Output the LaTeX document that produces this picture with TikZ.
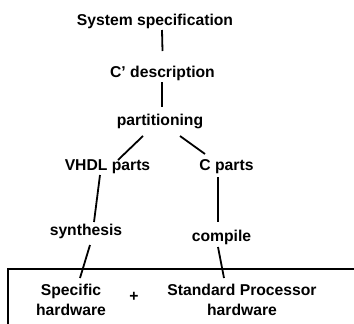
\documentclass[tikz,border=0pt]{standalone}
\usepackage{fontspec}
\setmainfont{Liberation Sans}
\usepackage{tikz}

\tikzset{
	stage/.style={font=\fontsize{15.7}{20}\selectfont\bfseries, anchor=base, inner sep=0pt},
	link/.style={line width=1.8pt}
}

\begin{document}
\begin{tikzpicture}[x=1pt,y=-1pt]
			\useasboundingbox (0,0) rectangle (354,324);
			\node[stage](spec) at (155,25) {System specification};
			\node[stage](cdesc) at (162.5,77) {C’ description};
			\node[stage](part) at (160,125) {partitioning};
			\node[stage](vhdl) at (107.5,170) {VHDL parts};
			\node[stage](cpart) at (226.5,170) {C parts};
			\node[stage](synth) at (86,235) {synthesis};
			\node[stage](comp) at (221.5,241) {compile};
			\node[stage, align=center](spechw) at (71,315) {Specific\\hardware};
			\node[stage](plus) at (134,301) {+};
			\node[stage, align=center](stdhw) at (242,315) {Standard Processor\\hardware};
			\draw [link] ([xshift=7,yshift=-5]spec.base) -- ([yshift=26]cdesc.base);
			\draw [link] ([xshift=-0.5,yshift=-5]cdesc.base) -- ([xshift=2,yshift=18]part.base);
			\draw [link] ([xshift=-17,yshift=-11]part.base) -- ([xshift=10.5,yshift=10]vhdl.base);
			\draw [link] ([xshift=20,yshift=-11]part.base) -- ([xshift=-21.5,yshift=16]cpart.base);
			\draw [link] ([xshift=-7.5,yshift=-5]vhdl.base) -- ([xshift=8,yshift=13]synth.base);
			\draw [link] ([xshift=-8.5,yshift=-7]cpart.base) -- ([xshift=-3.5,yshift=19]comp.base);
			\draw [link] ([xshift=4,yshift=-10]synth.base) -- ([xshift=9,yshift=37]spechw.base);
			\draw [link] ([xshift=-3.5,yshift=-6]comp.base) -- ([xshift=-18,yshift=37]stdhw.base);
			% open box round the hardware
			\draw [link] (8,324) -- (8,268.7) -- (354,268.7);
		\end{tikzpicture}
\end{document}
